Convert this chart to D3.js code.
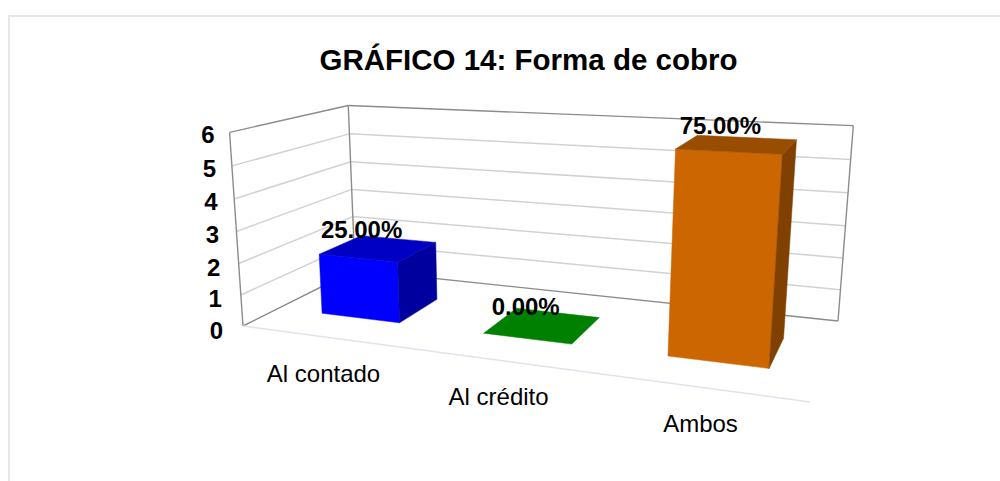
<!DOCTYPE html>
<html><head><meta charset="utf-8">
<script src="https://cdn.jsdelivr.net/npm/d3@7"></script>
<style>html,body{margin:0;padding:0;background:#fff}svg{display:block}text{font-family:"Liberation Sans",Arial,sans-serif;fill:#000}</style>
</head><body><svg id="c" width="1000" height="481"></svg>
<script>
const title = "GRÁFICO 14: Forma de cobro";
const categories = ["Al contado", "Al crédito", "Ambos"];
const counts = [2, 0, 6];
const percentLabels = ["25.00%", "0.00%", "75.00%"];
const yTicks = [0, 1, 2, 3, 4, 5, 6];
const frontColors = ["#0000ff", "#008000", "#cc6600"];
const topColors = ["#0000c4", "#008000", "#994d00"];
const sideColors = ["#00009e", "#006000", "#804000"];

// picture positions of the 3D box corners (floor: FL, FR, BR, BL; tops: FL, BL, BR)
const floorQuad = [[243,326],[810,402],[838,321],[355,270]];
const topQuad = [[229,134],[349,103],[853,127]];

function solve(A, b) {
  const n = b.length, M = A.map((r,i)=>[...r,b[i]]);
  for (let i=0;i<n;i++){
    let p=i; for(let k=i+1;k<n;k++) if(Math.abs(M[k][i])>Math.abs(M[p][i])) p=k;
    [M[i],M[p]]=[M[p],M[i]];
    for(let k=0;k<n;k++){ if(k===i) continue; const f=M[k][i]/M[i][i];
      for(let j=i;j<=n;j++) M[k][j]-=f*M[i][j]; }
  }
  return M.map((r,i)=>r[n]/r[i]);
}
// floor homography (t,d) -> picture
const uv=[[0,0],[1,0],[1,1],[0,1]], A8=[], b8=[];
uv.forEach(([u,v],i)=>{const [x,y]=floorQuad[i];
  A8.push([u,v,1,0,0,0,-u*x,-v*x]); b8.push(x);
  A8.push([0,0,0,u,v,1,-u*y,-v*y]); b8.push(y);});
const H=solve(A8,b8);
const base=(t,d)=>[H[0]*t+H[1]*d+H[2],H[3]*t+H[4]*d+H[5],H[6]*t+H[7]*d+1];
// vertical direction, least squares on the top corners
const topUV=[[0,0],[0,1],[1,1]], R=[], r=[];
topUV.forEach(([u,v],i)=>{const [x,y]=topQuad[i],[a,c,w]=base(u,v);
  R.push([1,0,-x]); r.push(x*w-a); R.push([0,1,-y]); r.push(y*w-c);});
const N=[0,1,2].map(i=>[0,1,2].map(j=>d3.sum(R,q=>q[i]*q[j])));
const Nb=[0,1,2].map(i=>d3.sum(R,(q,k)=>q[i]*r[k]));
const V=solve(N,Nb);

const yScale=d3.scaleLinear().domain([0,6]).range([0,1]);
const barScale=d3.scaleLinear().domain([0,6]).range([0,0.98]);
const xBand=d3.scaleBand().domain(categories).range([0.003,1.005]).paddingInner(0.505).paddingOuter(0.2525);
const depthFront=0.32, depthBack=0.71, barDrop=2.5;
function Q(t,d,h){const [a,c,w]=base(t,d);
  const W=w+h*V[2]; return [(a+h*V[0])/W,(c+h*V[1])/W];}
const P=(t,d,val)=>Q(t,d,yScale(val));
const B=(t,d,val)=>{const p=Q(t,d,barScale(val));return [p[0],p[1]+barDrop];};

const svg=d3.select("#c");
const line=(g,p,q,col,sw)=>g.append("line").attr("x1",p[0]).attr("y1",p[1]).attr("x2",q[0]).attr("y2",q[1]).attr("stroke",col).attr("stroke-width",sw);
const poly=(g,pts,col)=>g.append("polygon").attr("points",pts.map(p=>p.join(",")).join(" ")).attr("fill",col).attr("stroke",col).attr("stroke-width",0.5);

// outer chart border
svg.append("path").attr("d","M9,481V16H1000").attr("fill","none").attr("stroke","#e3e7ee").attr("stroke-width",2);

svg.append("text").attr("x",528.5).attr("y",70).attr("text-anchor","middle").attr("font-weight","bold").attr("font-size",29.5).text(title);

const walls=svg.append("g");
yTicks.forEach(v=>{ if(v===0||v===6) return;
  line(walls,P(0,0,v),P(0,1,v),"#d2d2d2",1.5);
  line(walls,P(0,1,v),P(1,1,v),"#d2d2d2",1.5);
});
const frame="#8c8c8c";
line(walls,P(0,0,0),P(0,0,6),frame,1.4);
line(walls,P(0,1,0),P(0,1,6),frame,1.4);
line(walls,P(1,1,0),P(1,1,6),frame,1.4);
line(walls,P(0,0,6),P(0,1,6),frame,1.4);
line(walls,P(0,1,6),P(1,1,6),frame,1.4);
line(walls,P(0,0,0),P(0,1,0),frame,1.4);
line(walls,P(0,1,0),P(1,1,0),frame,1.4);
line(walls,P(0,0,0),P(1,0,0),"#dfe4ec",1.5);

// axis tick labels
yTicks.forEach(v=>{const p=P(0,0,v);
  svg.append("text").attr("x",p[0]-15-(6-v)*0.8).attr("y",p[1]+(6-v)*0.4+10.5).attr("text-anchor","end").attr("font-weight","bold").attr("font-size",24).text(v);
});

// bars
const bars=svg.append("g");
categories.forEach((c,i)=>{
  const t0=xBand(c),t1=t0+xBand.bandwidth(),v=counts[i],d0=depthFront,d1=depthBack;
  if(v>0){
    poly(bars,[B(t0,d0,0),B(t1,d0,0),B(t1,d0,v),B(t0,d0,v)],frontColors[i]);
    poly(bars,[B(t1,d0,0),B(t1,d1,0),B(t1,d1,v),B(t1,d0,v)],sideColors[i]);
  }
  poly(bars,[B(t0,d0,v),B(t1,d0,v),B(t1,d1,v),B(t0,d1,v)],topColors[i]);
  const m=B((t0+t1)/2,(d0+d1)/2,v);
  svg.append("text").attr("x",m[0]-17).attr("y",m[1]-10).attr("text-anchor","middle").attr("font-weight","bold").attr("font-size",24).text(percentLabels[i]);
  const f=P((t0+t1)/2,0,0);
  svg.append("text").attr("x",f[0]).attr("y",f[1]+45).attr("text-anchor","middle").attr("font-size",24).text(c);
});
</script></body></html>
